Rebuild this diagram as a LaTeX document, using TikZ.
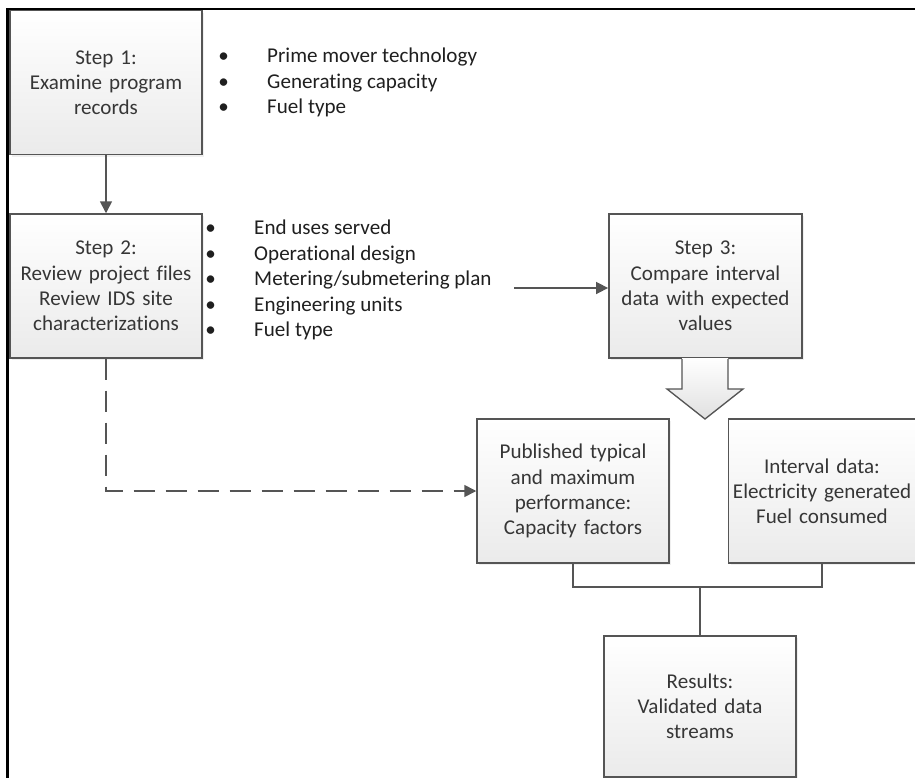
\documentclass[tikz,border=0pt]{standalone}
\usepackage{fontspec}
\setmainfont{Carlito}[Ligatures=CommonOff]
\usetikzlibrary{arrows.meta,shadows}
\definecolor{boxline}{HTML}{555555}
\definecolor{boxtext}{HTML}{363636}
\tikzset{>={Triangle[length=9pt,width=9pt]}}
\tikzset{
  stepbox/.style = {
    draw=boxline, line width=1.1pt, text=boxtext,
    top color=white, bottom color=black!8,
    drop shadow={shadow xshift=1.5pt, shadow yshift=-1.5pt, fill=black!12},
    minimum width=144pt, minimum height=108pt,
    text width=140pt, align=center, inner sep=0pt,
    font=\fontsize{15.8}{18.9}\selectfont
  },
  bullets/.style = {
    text=black!88, anchor=west, inner sep=0pt, align=left,
    font=\fontsize{15.8}{19.1}\selectfont
  },
  link/.style = {draw=boxline, line width=1.2pt}
}
\newcommand{\itm}[1]{\makebox[36.75pt][l]{\textbullet}#1}

\begin{document}
\begin{tikzpicture}[x=0.75pt,y=-0.75pt]
  \useasboundingbox (0,0) rectangle (915,778);
  % frame
  \draw[line width=1.6pt] (7.5,778) -- (7.5,9) -- (915,9);
  %
  \node[stepbox] (step1) at (106,82.5) {Step 1:\\ Examine program\\ records};
  \node[stepbox] (step2) at (106,286) {Step 2:\\ Review project files\\ Review IDS site\\ characterizations};
  \node[stepbox, minimum width=145pt] (step3) at (705.5,286) {Step 3:\\ Compare interval\\ data with expected\\ values};
  \node[stepbox] (pub) at (573,491) {Published typical\\ and maximum\\ performance:\\ Capacity factors};
  \node[stepbox, minimum width=137pt] (int) at (822,491) {Interval data:\\ Electricity generated\\ Fuel consumed};
  \node[stepbox, minimum height=106pt] (res) at (700,706.5) {Results:\\ Validated data\\ streams};
  %
  \node[bullets] (list1) at (218,82.5) {\itm{Prime mover technology}\\ \itm{Generating capacity}\\ \itm{Fuel type}};
  \node[bullets] (list2) at (205,280) {\itm{End uses served}\\ \itm{Operational design}\\ \itm{Metering/submetering plan}\\ \itm{Engineering units}\\ \itm{Fuel type}};
  %
  \coordinate (planend) at (514,288);
  \coordinate (fork) at (700,587);
  \draw[link,->] (step1) -- (step2);
  \draw[link,->] (planend) -- (step3.west |- planend);
  \draw[link,->,dash pattern=on 16pt off 8pt] (step2.south) |- (pub.west);
  \draw[link] (pub.south) |- (fork) -| (int.south);
  \draw[link] (fork) -- (res.north);
  % block arrow below step 3
  \shade[top color=white, bottom color=black!12]
    (682,358) -- (682,389) -- (667,389) -- (705,419) -- (743,389) -- (728,389) -- (728,358) -- cycle;
  \draw[boxline, line width=1pt, line join=miter]
    (682,359) -- (682,389) -- (667,389) -- (705,419) -- (743,389) -- (728,389) -- (728,359);
\end{tikzpicture}
\end{document}
